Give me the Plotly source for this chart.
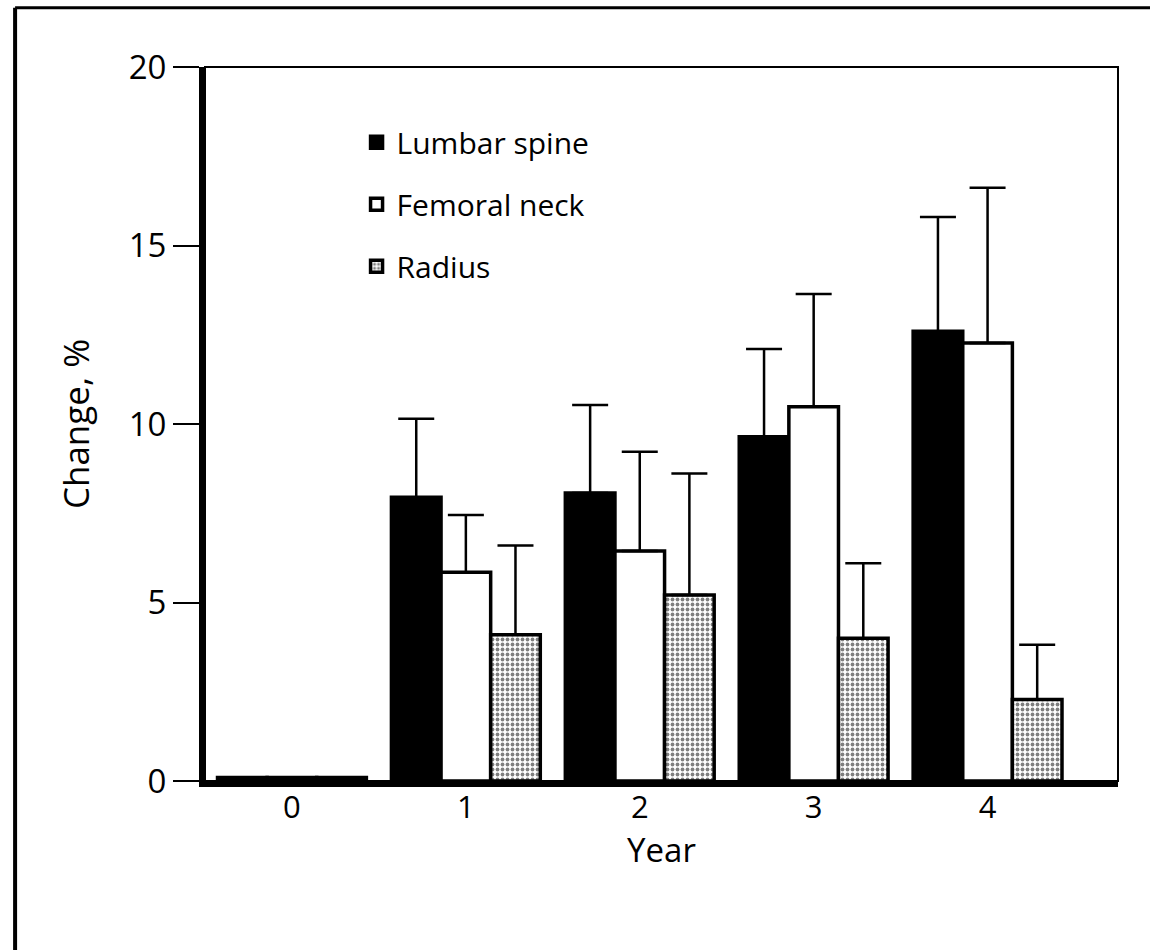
import plotly.graph_objects as go

years = ["0", "1", "2", "3", "4"]
lumbar = [0.1, 7.95, 8.07, 9.64, 12.6]
lumbar_se = [0, 2.2, 2.46, 2.46, 3.2]
femoral = [0.1, 5.85, 6.44, 10.48, 12.27]
femoral_se = [0, 1.6, 2.78, 3.16, 4.35]
radius = [0.1, 4.1, 5.21, 4.0, 2.28]
radius_se = [0, 2.5, 3.4, 2.1, 1.54]
zeros = [0, 0, 0, 0, 0]

FONT = "Open Sans"

def err(se):
    return dict(type="data", array=se, arrayminus=zeros, symmetric=False,
                color="black", thickness=2.5, width=18, visible=True)

fig = go.Figure()
fig.add_trace(go.Bar(
    name="Lumbar spine", x=years, y=lumbar, error_y=err(lumbar_se),
    marker=dict(color="black", line=dict(color="black", width=3.5)),
    legendgroup="a"))
fig.add_trace(go.Bar(
    name="Femoral neck", x=years, y=femoral, error_y=err(femoral_se),
    marker=dict(color="white", line=dict(color="black", width=3.5)),
    legendgroup="b"))
fig.add_trace(go.Bar(
    name="Radius", x=years, y=radius, error_y=err(radius_se),
    marker=dict(color="white", line=dict(color="black", width=3.5),
                pattern=dict(shape=".", size=5, solidity=0.45,
                             fgcolor="black", bgcolor="white", fillmode="overlay")),
    legendgroup="c"))

fig.update_layout(
    width=1150, height=950,
    margin=dict(l=205, r=32, t=67, b=169),
    paper_bgcolor="white", plot_bgcolor="white",
    barmode="group", bargap=0.144, bargroupgap=0,
    font=dict(family=FONT, color="black", size=28),
    showlegend=True,
    legend=dict(x=0.166, y=0.931, xanchor="left", yanchor="top",
                bgcolor="rgba(0,0,0,0)", font=dict(size=30, family=FONT),
                tracegroupgap=20, traceorder="grouped"),
    xaxis=dict(
        type="category", range=[-0.5, 4.75],
        showline=True, linecolor="black", linewidth=6,
        ticks="", showgrid=False, zeroline=False,
        ticklabelstandoff=-6,
        tickfont=dict(size=31, family=FONT),
        title=dict(text="Year", font=dict(size=33, family=FONT), standoff=14),
    ),
    yaxis=dict(
        range=[0, 20], tickvals=[0, 5, 10, 15, 20],
        showline=True, linecolor="black", linewidth=6,
        ticks="outside", ticklen=26, tickwidth=2, tickcolor="black",
        showgrid=False, zeroline=False,
        tickfont=dict(size=33, family=FONT),
        title=dict(text="Change, %", font=dict(size=35, family=FONT), standoff=30),
    ),
    shapes=[
        dict(type="rect", xref="paper", yref="paper", x0=0, x1=1, y0=0, y1=1,
             line=dict(color="black", width=2), layer="below"),
        dict(type="line", xref="paper", yref="paper", x0=-0.208, x1=-0.208,
             y0=-0.25, y1=1.083, line=dict(color="black", width=4)),
        dict(type="line", xref="paper", yref="paper", x0=-0.208, x1=1.04,
             y0=1.083, y1=1.083, line=dict(color="black", width=3)),
    ],
)

fig.write_html("out.html")
